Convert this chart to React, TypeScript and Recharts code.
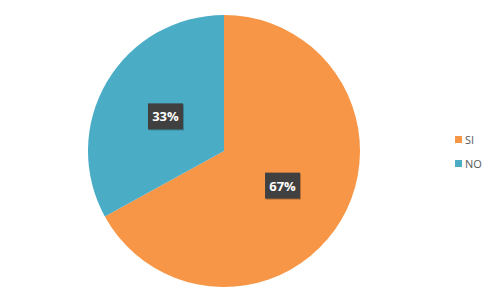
import React from "react";
import { PieChart, Pie, Cell, Legend } from "recharts";

const categories = ["SI", "NO"];
const values = [67, 33];
const colors = ["#F79646", "#4BACC6"];

const data = categories.map((name, i) => ({ name, value: values[i] }));

const RAD = Math.PI / 180;

const renderLabel = (props: any) => {
  const { cx, cy, midAngle, outerRadius, percent } = props;
  const r = outerRadius * 0.5;
  const x = cx + r * Math.cos(-midAngle * RAD);
  const y = cy + r * Math.sin(-midAngle * RAD);
  const txt = `${Math.round(percent * 100)}%`;
  const w = 35;
  const h = 26;
  return (
    <g>
      <rect x={x - w / 2 + 1} y={y - h / 2 + 1} width={w} height={h} fill="rgba(0,0,0,0.25)" />
      <rect x={x - w / 2} y={y - h / 2} width={w} height={h} fill="#404040" />
      <text
        x={x}
        y={y}
        fill="#ffffff"
        textAnchor="middle"
        dominantBaseline="central"
        fontFamily="Open Sans, sans-serif"
        fontWeight="bold"
        fontSize={13}
      >
        {txt}
      </text>
    </g>
  );
};

const renderLegend = () => {
  return (
    <div style={{ fontFamily: "Open Sans, sans-serif", fontSize: 11, color: "#595959" }}>
      {categories.map((c, i) => (
        <div key={c} style={{ display: "flex", alignItems: "center", height: 24 }}>
          <span style={{ display: "inline-block", width: 7, height: 7, background: colors[i], marginRight: 3 }} />
          <span>{c}</span>
        </div>
      ))}
    </div>
  );
};

export default function App() {
  return (
    <div style={{ position: "absolute", left: 0, top: 0, width: 504, height: 300, background: "#fff" }}>
      <PieChart width={504} height={300} margin={{ top: 0, right: 0, bottom: 0, left: 0 }}>
        <Pie
          data={data}
          dataKey="value"
          nameKey="name"
          cx={224}
          cy={151}
          outerRadius={136}
          startAngle={90}
          endAngle={-270}
          stroke="none"
          label={renderLabel}
          labelLine={false}
          isAnimationActive={false}
        >
          {data.map((d, i) => (
            <Cell key={d.name} fill={colors[i]} />
          ))}
        </Pie>
        <Legend
          content={renderLegend}
          layout="vertical"
          wrapperStyle={{ position: "absolute", left: 455, top: 127, width: 40 }}
        />
      </PieChart>
    </div>
  );
}
